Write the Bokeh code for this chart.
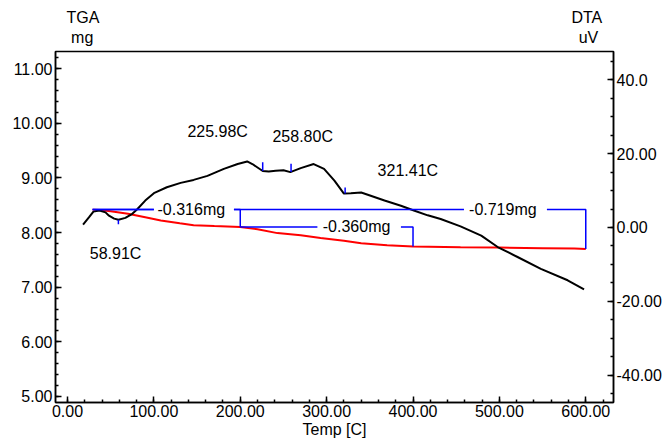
import numpy as np
from bokeh.plotting import figure
from bokeh.layouts import column
from bokeh.core.properties import value
from bokeh.models import Range1d, LinearAxis, FixedTicker, Label, NumeralTickFormatter
from bokeh.embed import file_html
from bokeh.resources import INLINE

# DTA signal (uV) against temperature (C)
dta_temp = [18, 25, 30, 37, 44, 48, 54, 59, 67, 75, 81, 90, 100, 115, 131, 146, 162,
            181, 197, 208, 214, 226, 233, 241, 250, 258, 270, 285, 297, 309, 320, 328,
            340, 351, 367, 386, 401, 417, 432, 455, 479, 498, 521, 548, 579, 598]
dta_uv = [0.8, 2.8, 4.3, 4.6, 4.1, 3.2, 2.4, 2.1, 2.6, 3.7, 5.0, 7.3, 9.3, 10.9, 12.1,
          12.9, 14.0, 15.9, 17.2, 17.9, 17.2, 15.3, 15.2, 15.4, 15.5, 15.0, 16.1, 17.2,
          15.9, 12.7, 9.2, 9.3, 9.5, 8.6, 7.3, 5.9, 4.6, 3.3, 2.3, 0.3, -2.2, -5.3, -8.0,
          -11.2, -14.3, -16.8]

# TGA mass (mg) against temperature (C)
tga_temp = [29, 38, 50, 70, 90, 108, 130, 146, 170, 200, 220, 243, 270, 293, 320, 340,
            370, 400, 455, 500, 550, 587, 600]
tga_mg = [8.420, 8.415, 8.390, 8.345, 8.280, 8.220, 8.170, 8.135, 8.120, 8.104, 8.060,
          7.990, 7.950, 7.900, 7.850, 7.805, 7.770, 7.744, 7.730, 7.725, 7.715, 7.708,
          7.701]

# mass-loss steps: start and end temperature, change in mass (mg)
step_start = [29, 200, 29]
step_end = [200, 400, 600]
step_delta = [-0.316, -0.360, -0.719]

# DTA peak temperatures (C)
peak_temp = [58.91, 225.98, 258.80, 321.41]

# axis ticks
temp_ticks = [0, 100, 200, 300, 400, 500, 600]
tga_ticks = [5, 6, 7, 8, 9, 10, 11]
dta_ticks = [-40, -20, 0, 20, 40]
dta_tick_labels = ["-40.00", "-20.00", "0.00", "20.00", "40.0"]

# axis titles with units, shown above the frame
axis_titles = ["TGA", "mg", "DTA", "uV"]

FONT = "Liberation Sans"
FS = "16px"
BLUE = "#0000ff"
W = 669
HEAD_H = 49

# header strip carrying the axis titles
head = figure(width=W, height=HEAD_H, output_backend="svg", toolbar_location=None,
              x_range=Range1d(0, W), y_range=Range1d(HEAD_H, 0),
              x_axis_location=None, y_axis_location=None, min_border=0)
head.grid.visible = False
head.outline_line_color = None
head.background_fill_color = "white"
head.border_fill_color = "white"
head.text(x=[33, 32, 637, 639], y=[17, 37, 17, 37], text=axis_titles,
          text_font=value(FONT), text_font_size=value(FS), text_color="black",
          text_align="center", text_baseline="middle")

p = figure(width=W, height=442 - HEAD_H, output_backend="svg", toolbar_location=None,
           x_range=Range1d(-13.9, 632.1), y_range=Range1d(4.89, 11.314),
           min_border_left=55, min_border_right=56, min_border_top=2,
           min_border_bottom=40)
p.extra_y_ranges = {"dta": Range1d(-47.43, 47.7)}
p.xgrid.visible = False
p.ygrid.visible = False
p.outline_line_color = "black"
p.outline_line_width = 1.5
p.outline_line_alpha = 1.0
p.background_fill_color = "white"
p.border_fill_color = "white"


def style_axis(ax):
    ax.axis_line_color = "black"
    ax.axis_line_width = 1.5
    ax.major_tick_line_color = "black"
    ax.major_tick_line_width = 1.5
    ax.minor_tick_line_color = "black"
    ax.minor_tick_line_width = 1.5
    ax.major_tick_in = 6
    ax.major_tick_out = 0
    ax.minor_tick_in = 3
    ax.minor_tick_out = 0
    ax.major_label_text_font = FONT
    ax.major_label_text_font_size = FS
    ax.major_label_text_color = "black"
    ax.major_label_standoff = 3
    ax.axis_label_text_font = FONT
    ax.axis_label_text_font_size = FS
    ax.axis_label_text_font_style = "normal"
    ax.axis_label_text_color = "black"


def text_label(**kw):
    return Label(text_font=FONT, text_font_size=FS, text_color="black",
                 text_align="center", text_baseline="middle", **kw)


xax = p.xaxis[0]
xax.ticker = FixedTicker(ticks=temp_ticks, minor_ticks=list(range(-20, 660, 20)))
xax.formatter = NumeralTickFormatter(format="0.00")
xax.axis_label = "Temp [C]"
style_axis(xax)
xax.major_label_standoff = 2
xax.axis_label_standoff = 1

yax = p.yaxis[0]
yax.ticker = FixedTicker(ticks=tga_ticks,
                         minor_ticks=[round(4.8 + 0.2 * i, 2) for i in range(34)])
yax.formatter = NumeralTickFormatter(format="0.00")
style_axis(yax)

rax = LinearAxis(y_range_name="dta",
                 ticker=FixedTicker(ticks=dta_ticks, minor_ticks=list(range(-50, 55, 5))),
                 major_label_overrides={t: s for t, s in zip(dta_ticks, dta_tick_labels)})
style_axis(rax)
p.add_layout(rax, "right")

# curves
p.line(tga_temp, tga_mg, line_color="#ff0000", line_width=2)
p.line(dta_temp, dta_uv, y_range_name="dta", line_color="black", line_width=2)

# mass-loss brackets; each label sits in a break of its horizontal line
label_gap = [(100, 192.7), (289.3, 386), (459, 555)]
levels = [float(np.interp(s, tga_temp, tga_mg)) for s in step_start]
for s, e, d, top, (g0, g1) in zip(step_start, step_end, step_delta, levels, label_gap):
    gaps = sorted(g for g, lv in zip(label_gap, levels) if abs(lv - top) < 1e-9)
    xs, x = [], s
    for a, b in gaps:
        if b <= x or a >= e:
            continue
        if a > x:
            xs.append((x, a))
        x = max(x, b)
    xs.append((x, e))
    for a, b in xs[:-1]:
        p.line([a, b], [top, top], line_color=BLUE, line_width=1.5)
    a, b = xs[-1]
    p.line([a, b, b], [top, top, top + d], line_color=BLUE, line_width=1.5)
    p.add_layout(text_label(x=(g0 + g1) / 2 - 3, y=top, text=f"{d:.3f}mg"))

# DTA peak markers
tick_len = [-1.2, 2.4, 2.2, 1.6]
peak_label_pos = [(55.6, -7.0), (173.8, 25.9), (272.3, 24.6), (394, 15.4)]
for t, dl, (lx, ly) in zip(peak_temp, tick_len, peak_label_pos):
    base = float(np.interp(t, dta_temp, dta_uv))
    p.segment(x0=[t], y0=[base], x1=[t], y1=[base + dl], y_range_name="dta",
              line_color=BLUE, line_width=1.5)
    p.add_layout(text_label(x=lx, y=ly, y_range_name="dta", text=f"{t:.2f}C"))

layout = column(head, p, spacing=0)
open("out.html", "w").write(file_html(layout, INLINE))
